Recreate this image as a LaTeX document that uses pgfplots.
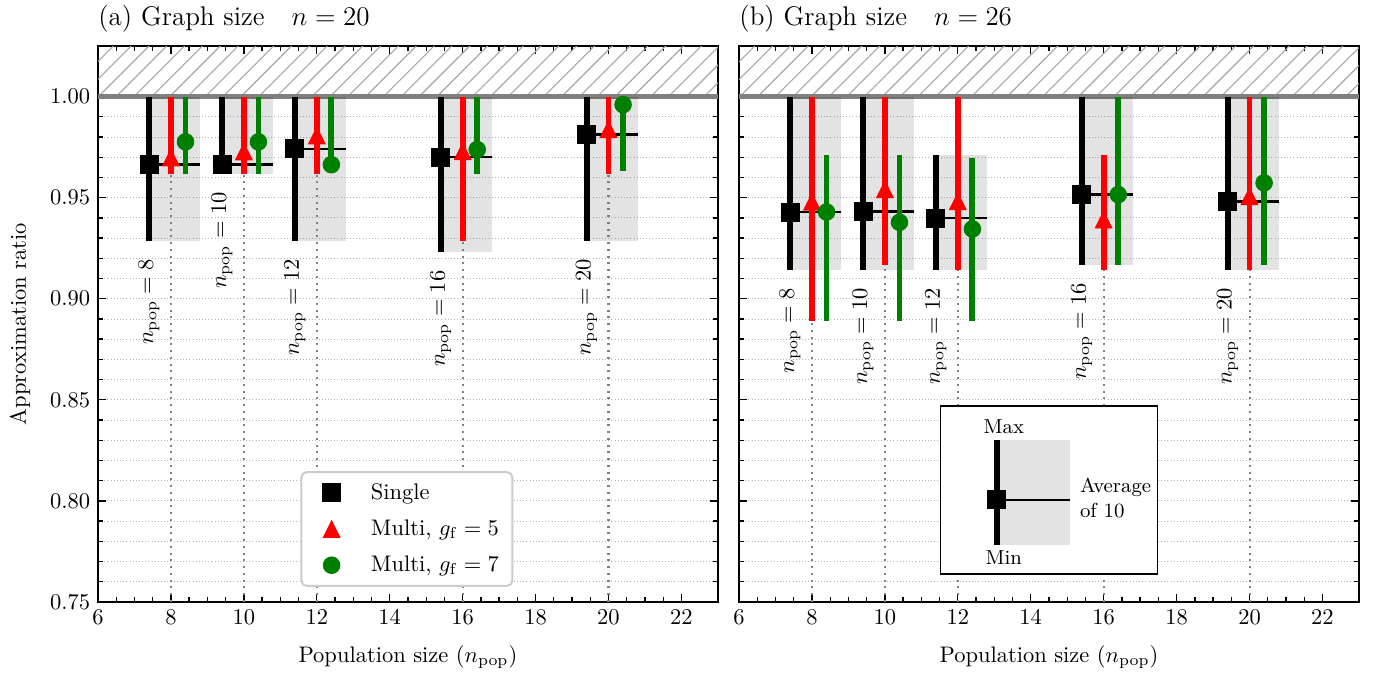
\documentclass[border=0pt]{standalone}
\usepackage{pgfplots}
\pgfplotsset{compat=1.18}
\usepackage{pgfplotstable}
\usetikzlibrary{patterns.meta}

\definecolor{mred}{RGB}{255,0,0}
\definecolor{mgreen}{RGB}{0,128,0}

\pgfdeclareplotmark{mtri}{%
  \pgfpathmoveto{\pgfqpoint{0pt}{\pgfplotmarksize}}%
  \pgfpathlineto{\pgfqpoint{-\pgfplotmarksize}{-\pgfplotmarksize}}%
  \pgfpathlineto{\pgfqpoint{\pgfplotmarksize}{-\pgfplotmarksize}}%
  \pgfpathclose
  \pgfusepathqfillstroke}

% graph size n = 20
\pgfplotstableread{
n  smin   savg   smax  rmin   ravg   rmax  gmin   gavg   gmax
8  0.9286 0.9663 1.0   0.9617 0.9698 1.0   0.9617 0.9776 1.0
10 0.9617 0.9663 1.0   0.9617 0.9728 1.0   0.9617 0.9776 1.0
12 0.9286 0.9741 1.0   0.9617 0.9807 1.0   0.9630 0.9663 1.0
16 0.9231 0.9701 1.0   0.9286 0.9729 1.0   0.9617 0.9738 1.0
20 0.9286 0.9812 1.0   0.9617 0.9838 1.0   0.9630 0.9960 1.0
}\tabA
% graph size n = 26
\pgfplotstableread{
n  smin   savg   smax   rmin   ravg   rmax   gmin   gavg   gmax
8  0.9144 0.9429 1.0    0.8891 0.9479 1.0    0.8891 0.9429 0.9713
10 0.9144 0.9432 1.0    0.9168 0.9541 1.0    0.8891 0.9378 0.9713
12 0.9144 0.9399 0.9713 0.9144 0.9482 1.0    0.8891 0.9345 0.9696
16 0.9168 0.9515 1.0    0.9144 0.9391 0.9713 0.9168 0.9515 1.0
20 0.9144 0.9482 1.0    0.9144 0.9507 1.0    0.9168 0.9573 1.0
}\tabB

% #1 n, #2 single min, #3 single avg, #4 single max, #5 red min
\newcommand\grp[5]{%
  \fill[black, fill opacity=0.11] (axis cs:{#1-0.6},#2) rectangle (axis cs:{#1+0.8},#4);
  \draw[gray, line width=0.9pt, dash pattern=on 0.9pt off 2.1pt] (axis cs:#1,0.75) -- (axis cs:#1,#5);
  \draw[black, line width=1.2pt] (axis cs:{#1-0.6},#3) -- (axis cs:{#1+0.8},#3);
  \node[rotate=90, anchor=east, inner sep=0pt] at ([yshift=-8pt]axis cs:{#1-0.6},#2) {$n_{\mathrm{pop}}=#1$};
}

\newcommand\hatch{%
  \fill[pattern={Lines[angle=45,distance=5.6pt,line width=0.5pt]}, pattern color=black!35] (axis cs:6,1) rectangle (axis cs:23,1.025);
  \draw[black!50, line width=2pt] (axis cs:6,1) -- (axis cs:23,1);
}

\pgfplotsset{
  panel/.style={
    scale only axis, width=275.5pt, height=247.1pt,
    xmin=6, xmax=23, ymin=0.75, ymax=1.025,
    xtick={6,8,10,12,14,16,18,20,22},
    ytick={0.75,0.80,0.85,0.90,0.95,1.00},
    minor x tick num=3, minor y tick num=4,
    tick align=inside, major tick length=3.5pt, minor tick length=2pt,
    every tick/.style={black, line width=0.6pt},
    axis line style={line width=0.8pt},
    ymajorgrids, yminorgrids,
    major grid style={densely dotted, black!30, line width=0.4pt},
    minor grid style={densely dotted, black!30, line width=0.4pt},
    yticklabel style={/pgf/number format/.cd, fixed, fixed zerofill, precision=2},
    xlabel={Population size ($n_{\mathrm{pop}}$)},
    every axis x label/.style={at={(axis description cs:0.5,-0.0988)}, anchor=center},
    every axis title/.style={at={(axis description cs:0,1.0378)}, anchor=base west, font=\large, inner sep=0pt},
  },
  bars/.style={only marks,
    error bars/y dir=both, error bars/y explicit, error bars/error mark=none,
    error bars/error bar style={line width=2.6pt, #1}},
}

\begin{document}
\begin{tikzpicture}
\path (-43.56pt,-32.44pt) rectangle (567.11pt,267.56pt);

\begin{axis}[panel, at={(0pt,0pt)}, anchor=south west,
  title={(a) Graph size\quad $n=20$},
  ylabel={Approximation ratio},
  every axis y label/.style={at={(axis description cs:-0.126,0.5)}, anchor=center, rotate=90},
  legend cell align=left,
  legend style={at={(axis description cs:0.3264,0.027)}, anchor=south west,
    draw=black!20, line width=0.9pt, rounded corners=2.5pt, fill=white,
    inner xsep=4pt, inner ysep=3pt, row sep=3.6pt, font=\normalsize,
    /tikz/every odd column/.append style={column sep=6pt}},
  legend image code/.code={\path (0pt,0pt) (18pt,0pt); \draw[sharp corners, line width=0.4pt, #1] plot coordinates {(9pt,0pt)};},
]
\hatch
\grp{8}{0.9286}{0.9663}{1.0}{0.9617}
\grp{10}{0.9617}{0.9663}{1.0}{0.9617}
\grp{12}{0.9286}{0.9741}{1.0}{0.9617}
\grp{16}{0.9231}{0.9701}{1.0}{0.9286}
\grp{20}{0.9286}{0.9812}{1.0}{0.9617}

\addplot[bars=black, black, mark=square*, mark size=4pt]
  table[x expr=\thisrow{n}-0.6, y=savg, y error plus expr=\thisrow{smax}-\thisrow{savg}, y error minus expr=\thisrow{savg}-\thisrow{smin}] {\tabA};
\addlegendentry{Single}
\addplot[bars=mred, mred, mark=mtri, mark size=3.7pt]
  table[x=n, y=ravg, y error plus expr=\thisrow{rmax}-\thisrow{ravg}, y error minus expr=\thisrow{ravg}-\thisrow{rmin}] {\tabA};
\addlegendentry{Multi, $g_{\mathrm{f}}=5$}
\addplot[bars=mgreen, mgreen, mark=*, mark size=3.7pt]
  table[x expr=\thisrow{n}+0.4, y=gavg, y error plus expr=\thisrow{gmax}-\thisrow{gavg}, y error minus expr=\thisrow{gavg}-\thisrow{gmin}] {\tabA};
\addlegendentry{Multi, $g_{\mathrm{f}}=7$}
\end{axis}

\begin{axis}[panel, at={(284.9pt,0pt)}, anchor=south west,
  title={(b) Graph size\quad $n=26$},
  yticklabels={},
]
\hatch
\grp{8}{0.9144}{0.9429}{1.0}{0.8891}
\grp{10}{0.9144}{0.9432}{1.0}{0.9168}
\grp{12}{0.9144}{0.9399}{0.9713}{0.9144}
\grp{16}{0.9168}{0.9515}{1.0}{0.9144}
\grp{20}{0.9144}{0.9482}{1.0}{0.9144}

\addplot[bars=black, black, mark=square*, mark size=4pt]
  table[x expr=\thisrow{n}-0.6, y=savg, y error plus expr=\thisrow{smax}-\thisrow{savg}, y error minus expr=\thisrow{savg}-\thisrow{smin}] {\tabB};
\addplot[bars=mred, mred, mark=mtri, mark size=3.7pt]
  table[x=n, y=ravg, y error plus expr=\thisrow{rmax}-\thisrow{ravg}, y error minus expr=\thisrow{ravg}-\thisrow{rmin}] {\tabB};
\addplot[bars=mgreen, mgreen, mark=*, mark size=3.7pt]
  table[x expr=\thisrow{n}+0.4, y=gavg, y error plus expr=\thisrow{gmax}-\thisrow{gavg}, y error minus expr=\thisrow{gavg}-\thisrow{gmin}] {\tabB};

% explanatory inset
\draw[black, line width=0.6pt, fill=white] (axis cs:11.53,0.7639) rectangle (axis cs:17.48,0.847);
\fill[black, fill opacity=0.11] (axis cs:13.07,0.7782) rectangle (axis cs:15.07,0.8302);
\draw[black, line width=1.2pt] (axis cs:13.07,0.8005) -- (axis cs:15.07,0.8005);
\addplot[bars=black, black, mark=square*, mark size=4pt]
  coordinates {(13.07,0.8005) += (0,0.0297) -= (0,0.0223)};
\node[font=\small] at (axis cs:13.26,0.8366) {Max};
\node[font=\small] at (axis cs:13.26,0.7718) {Min};
\node[font=\small, anchor=west, align=left, inner sep=0pt] at (axis cs:15.34,0.8015) {Average\\of 10};
\end{axis}
\end{tikzpicture}
\end{document}
